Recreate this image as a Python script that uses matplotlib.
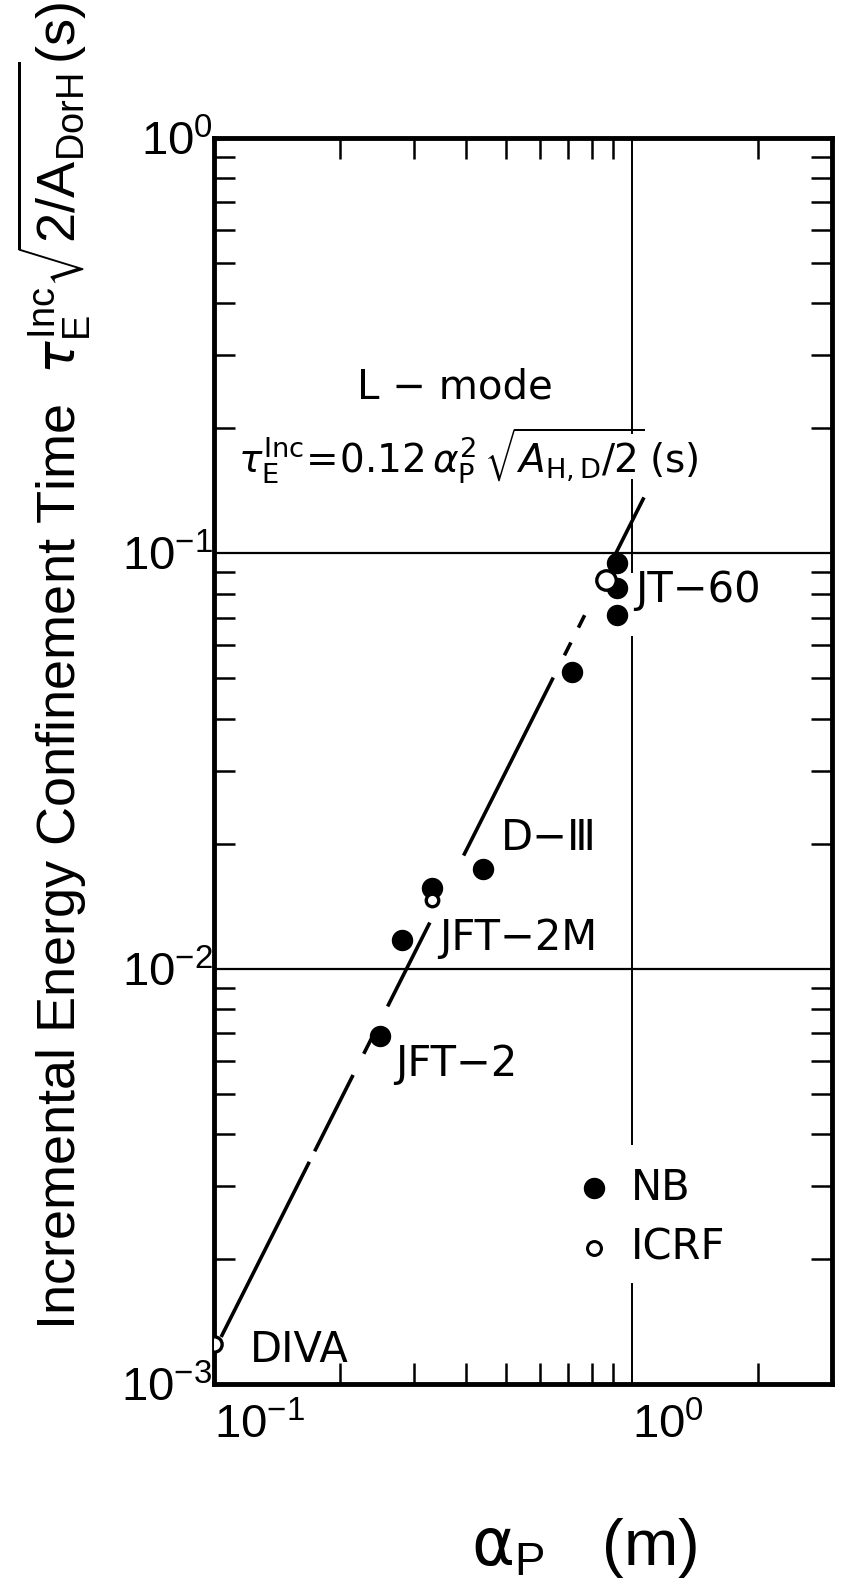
import numpy as np
import matplotlib
matplotlib.use("Agg")
from matplotlib import pyplot as plt
from matplotlib.ticker import LogLocator, NullFormatter

## values
nb_x = [0.25, 0.281, 0.332, 0.44, 0.717, 0.92, 0.92, 0.92]
nb_y = [6.9e-3, 0.01175, 0.0156, 0.0174, 0.0518, 0.0946, 0.0824, 0.0709]
icrf_x = [0.1, 0.332, 0.866]
icrf_y = [1.25e-3, 0.0146, 0.0862]
icrf_size = [11, 9, 14]

## L-mode law tau = 0.12 a^2, drawn as broken pieces like the original
coef = 0.12
fit_segments = [(0.104, 0.169), (0.174, 0.215), (0.228, 0.241), (0.26, 0.328),
                (0.395, 0.647), (0.688, 0.713), (0.743, 0.769), (0.913, 1.066)]

## vertical grid line at a=1 is interrupted in the scan
grid_x_segments = [(1.0, 0.1945), (0.150, 0.090), (0.063, 3.79e-3), (1.74e-3, 1e-3)]

machines = ["JT−60", "D−Ⅲ", "JFT−2M", "JFT−2", "DIVA"]
machine_x = [1.017, 0.486, 0.345, 0.271, 0.122]
machine_y = [0.0815, 0.0206, 0.01188, 5.9e-3, 1.21e-3]

legend_x = 0.81
legend_y = [2.97e-3, 2.13e-3]
legend_text_x = 0.994
legend_labels = ["NB", "ICRF"]

xticks = [0.1, 1.0]
xticklabels = [r"$\mathdefault{10^{-1}}$", r"$\mathdefault{10^{0}}$"]
yticks = [1e-3, 1e-2, 1e-1, 1.0]
yticklabels = [r"$\mathdefault{10^{-3}}$", r"$\mathdefault{10^{-2}}$",
               r"$\mathdefault{10^{-1}}$", r"$\mathdefault{10^{0}}$"]

axfont = ["Liberation Sans", "DejaVu Sans"]
plt.rcParams["mathtext.fontset"] = "dejavusans"

fig = plt.figure(figsize=(8.42, 15.83), dpi=100)
ax = fig.add_axes([214 / 842, 1 - 1384 / 1583, 618 / 842, 1246 / 1583])
ax.set_xscale("log")
ax.set_yscale("log")
ax.set_xlim(0.1, 3.0)
ax.set_ylim(1e-3, 1.0)

# grid lines
for yv in (0.1, 0.01):
    ax.axhline(yv, color="k", lw=1.6, zorder=1)
for y0, y1 in grid_x_segments:
    ax.plot([1.0, 1.0], [y0, y1], color="k", lw=1.4, zorder=1)

# fitted law
for x0, x1 in fit_segments:
    xs = np.array([x0, x1])
    ax.plot(xs, coef * xs ** 2, color="k", lw=2.6, solid_capstyle="butt", zorder=2)

# data
ax.plot(nb_x, nb_y, "o", color="k", ms=14.4, zorder=3)
for x, y, s in zip(icrf_x, icrf_y, icrf_size):
    ax.plot(x, y, "o", mfc="white", mec="k", mew=2.4, ms=s, zorder=4)

for name, x, y in zip(machines, machine_x, machine_y):
    ax.text(x, y, name, fontsize=30, ha="left", va="center", zorder=5)

# hand drawn legend
ax.plot(legend_x, legend_y[0], "o", color="k", ms=14.4)
ax.plot(legend_x, legend_y[1], "o", mfc="white", mec="k", mew=2.2, ms=10)
for y, lab in zip(legend_y, legend_labels):
    ax.text(legend_text_x, y, lab, fontsize=30, ha="left", va="center")

ax.text(0.377, 0.251, "L − mode", fontsize=29, ha="center", va="center")
ax.text(0.114, 0.172,
        r"$\tau_{\mathrm{E}}^{\mathrm{Inc}}\!=\!0.12\,\alpha_{\mathrm{P}}^{2}\,"
        r"\sqrt{A_{\mathrm{H,D}}/2}\,(\mathrm{s})$",
        fontsize=28, ha="left", va="center")

# axes frame and ticks
for sp in ax.spines.values():
    sp.set_linewidth(3.5)
ax.xaxis.set_minor_locator(LogLocator(base=10, subs=np.arange(2, 10)))
ax.yaxis.set_minor_locator(LogLocator(base=10, subs=np.arange(2, 10)))
ax.xaxis.set_minor_formatter(NullFormatter())
ax.yaxis.set_minor_formatter(NullFormatter())
ax.set_xticks(xticks, xticklabels, ha="left")
ax.set_yticks(yticks, yticklabels)
ax.tick_params(which="minor", direction="in", length=15, width=1.8,
               top=True, right=True)
ax.tick_params(which="major", direction="in", length=0, top=True, right=True)
ax.tick_params(axis="x", which="major", pad=14, labelsize=34, labelfontfamily=axfont)
ax.tick_params(axis="y", which="major", pad=1, labelsize=34, labelfontfamily=axfont)

fig.text(54 / 842, 1 - 666 / 1583,
         r"Incremental Energy Confinement Time  "
         r"$\tau_{\mathdefault{E}}^{\mathdefault{Inc}}"
         r"\sqrt{\mathdefault{2/A}_{\mathdefault{DorH}}}\mathdefault{(s)}$",
         rotation=90, ha="center", va="center", fontsize=39, family=axfont)
fig.text(584 / 842, 1 - 1548 / 1583, r"$\mathrm{\alpha}_{\mathdefault{P}}$   (m)",
         ha="center", va="center", fontsize=47, family=axfont)

fig.savefig("out.png", dpi=100)
